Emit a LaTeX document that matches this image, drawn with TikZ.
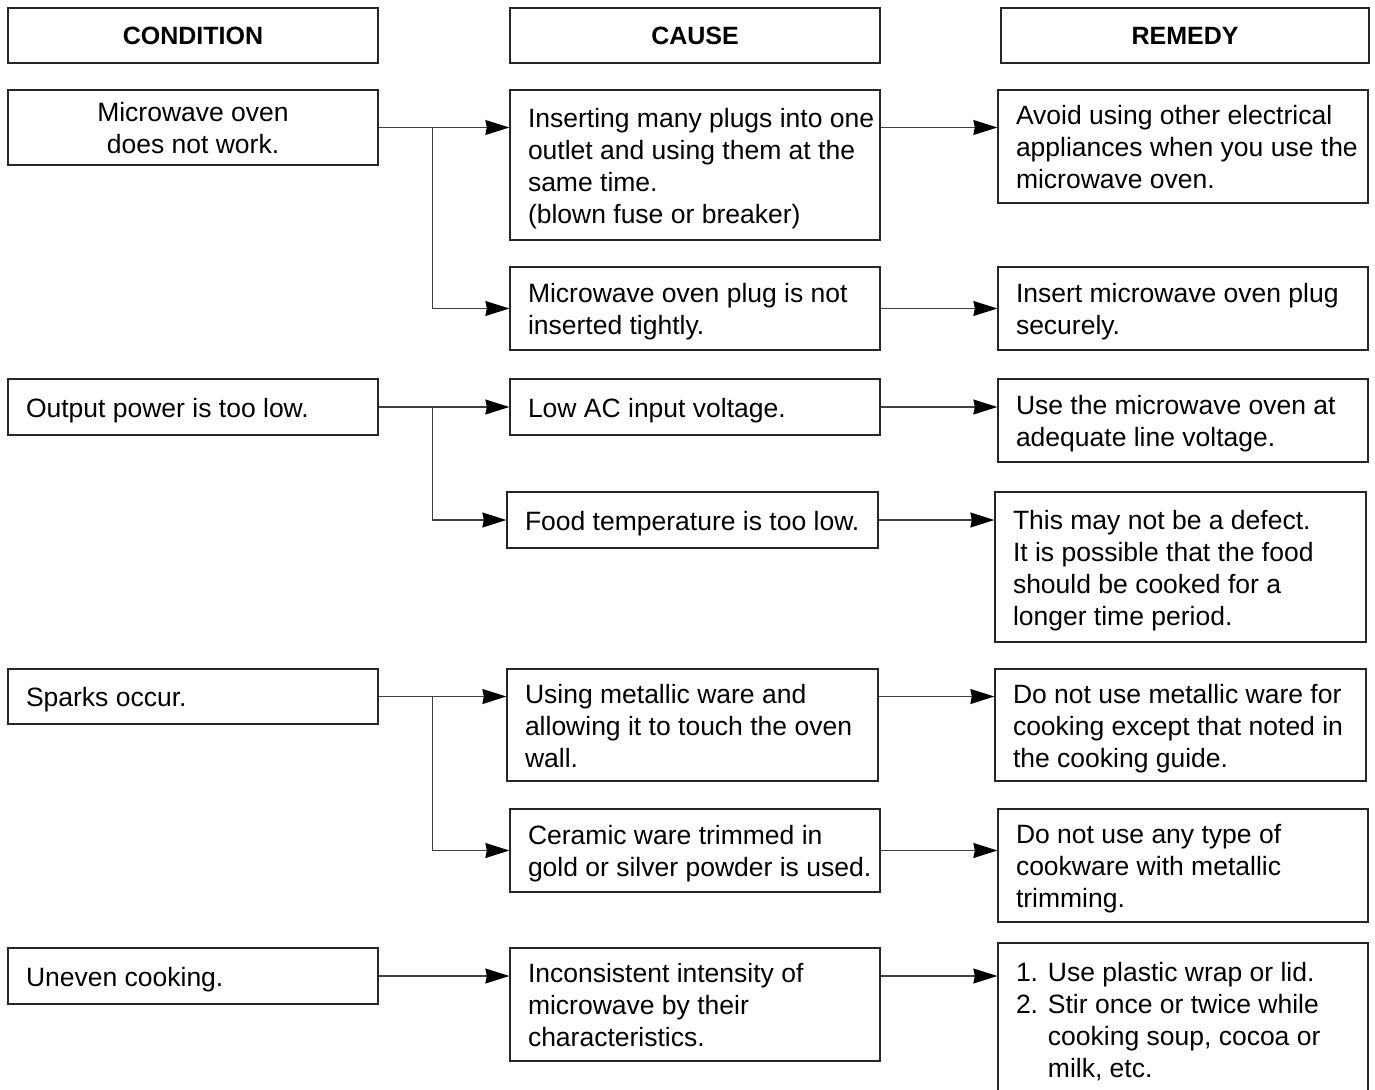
\documentclass[tikz,border=0pt]{standalone}
\usepackage{fontspec}
\setmainfont{Liberation Sans}
\usetikzlibrary{arrows.meta}
\newcommand\bodyfont{\fontsize{26.5pt}{32pt}\selectfont}
\newcommand\headfont{\fontsize{25pt}{30pt}\selectfont\bfseries}
% left-aligned lines, 18pt from the left edge, exactly #1 wide
\newcommand\tl[2]{\makebox[#1][l]{\hspace*{18pt}\begin{tabular}{@{}l@{}}\rule{0pt}{30pt}#2\end{tabular}}}
\newcommand\tc[1]{\begin{tabular}{@{}c@{}}\rule{0pt}{30pt}#1\end{tabular}}
\tikzset{
  box/.style={rectangle, draw=black!85, line width=1.3pt, inner sep=0pt, font=\bodyfont, text=black},
  wh/.style 2 args={minimum width=#1, minimum height=#2},
  headbox/.style={box, font=\headfont},
  conn/.style={draw=black!75, line width=1.2pt},
  arr/.style={conn, -{Stealth[length=24pt,width=15pt,inset=1.5pt,black]}},
}
\begin{document}
\begin{tikzpicture}[x=1pt,y=-1pt]
\useasboundingbox (0,0) rectangle (1375,1089);
% headers
\node[headbox, wh={370pt}{55pt}] (hC) at (193,35.5) {CONDITION};
\node[headbox, wh={370pt}{55pt}] (hA) at (695,35.5) {CAUSE};
\node[headbox, wh={368pt}{55pt}] (hR) at (1185,35.5) {REMEDY};
% row 1
\node[box, wh={370pt}{75pt}] (cond1) at (193,127.5) {\tc{Microwave oven\\does not work.}};
\node[box, wh={370pt}{150pt}] (c1a) at (695,165) {\tl{370pt}{Inserting many plugs into one\\outlet and using them at the\\same time.\\(blown fuse or breaker)}};
\node[box, wh={370pt}{113pt}] (r1a) at (1183,146.5) {\tl{370pt}{Avoid using other electrical\\appliances when you use the\\microwave oven.}};
\node[box, wh={370pt}{83pt}] (c1b) at (695,308.5) {\tl{370pt}{Microwave oven plug is not\\inserted tightly.}};
\node[box, wh={370pt}{83pt}] (r1b) at (1183,308.5) {\tl{370pt}{Insert microwave oven plug\\securely.}};
% row 2
\node[box, wh={370pt}{56pt}] (cond2) at (193,407) {\tl{370pt}{Output power is too low.}};
\node[box, wh={370pt}{56pt}] (c2a) at (695,407) {\tl{370pt}{Low AC input voltage.}};
\node[box, wh={370pt}{83pt}] (r2a) at (1183,420.5) {\tl{370pt}{Use the microwave oven at\\adequate line voltage.}};
\node[box, wh={371pt}{56pt}] (c2b) at (692.5,520) {\tl{371pt}{Food temperature is too low.}};
\node[box, wh={371pt}{150pt}] (r2b) at (1180.5,567) {\tl{371pt}{This may not be a defect.\\It is possible that the food\\should be cooked for a\\longer time period.}};
% row 3
\node[box, wh={370pt}{55pt}] (cond3) at (193,696.5) {\tl{370pt}{Sparks occur.}};
\node[box, wh={371pt}{112pt}] (c3a) at (692.5,725) {\tl{371pt}{Using metallic ware and\\allowing it to touch the oven\\wall.}};
\node[box, wh={371pt}{112pt}] (r3a) at (1180.5,725) {\tl{371pt}{Do not use metallic ware for\\cooking except that noted in\\the cooking guide.}};
\node[box, wh={370pt}{83pt}] (c3b) at (695,850.5) {\tl{370pt}{Ceramic ware trimmed in\\gold or silver powder is used.}};
\node[box, wh={370pt}{113pt}] (r3b) at (1183,865.5) {\tl{370pt}{Do not use any type of\\cookware with metallic\\trimming.}};
% row 4
\node[box, wh={370pt}{56pt}] (cond4) at (193,976) {\tl{370pt}{Uneven cooking.}};
\node[box, wh={370pt}{113pt}] (c4) at (695,1004.5) {\tl{370pt}{Inconsistent intensity of\\microwave by their\\characteristics.}};
\node[box, wh={370pt}{152pt}] (r4) at (1183,1019) {\tl{370pt}{1. Use plastic wrap or lid.\\2. Stir once or twice while\\\phantom{2. }cooking soup, cocoa or\\\phantom{2. }milk, etc.}};
% branch points
\coordinate (b1) at ([xshift=53.5pt]cond1.east);
\coordinate (b2) at ([xshift=53.5pt]cond2.east);
\coordinate (b3) at ([xshift=53.5pt]cond3.east);
% connectors row 1
\draw[arr] (cond1.east) -- (cond1.east -| c1a.west);
\draw[arr] (b1) |- (c1b.west);
\draw[arr] (c1a.east |- cond1.east) -- (r1a.west |- cond1.east);
\draw[arr] (c1b.east) -- (r1b.west);
% row 2
\draw[arr] (cond2.east) -- (c2a.west);
\draw[arr] (b2) |- (c2b.west);
\draw[arr] (c2a.east) -- (r2a.west |- c2a.east);
\draw[arr] (c2b.east) -- (r2b.west |- c2b.east);
% row 3
\draw[arr] (cond3.east) -- (cond3.east -| c3a.west);
\draw[arr] (b3) |- (c3b.west);
\draw[arr] (c3a.east |- cond3.east) -- (r3a.west |- cond3.east);
\draw[arr] (c3b.east) -- (r3b.west |- c3b.east);
% row 4
\draw[arr] (cond4.east) -- (cond4.east -| c4.west);
\draw[arr] (c4.east |- cond4.east) -- (r4.west |- cond4.east);
\end{tikzpicture}
\end{document}
